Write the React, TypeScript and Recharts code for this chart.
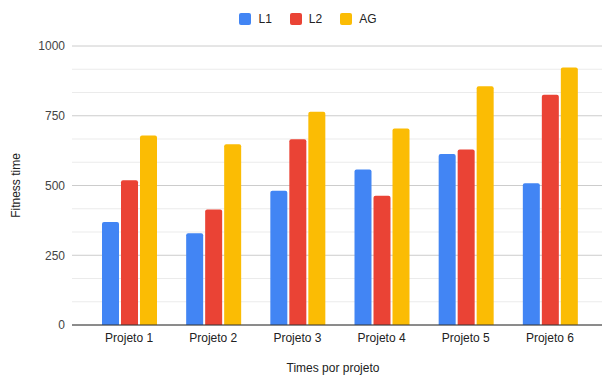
import { BarChart, Bar, XAxis, YAxis, CartesianGrid } from "recharts"

const projetos = ["Projeto 1", "Projeto 2", "Projeto 3", "Projeto 4", "Projeto 5", "Projeto 6"]
const l1 = [369, 329, 481, 557, 613, 508]
const l2 = [519, 414, 666, 463, 629, 825]
const ag = [679, 648, 764, 704, 856, 923]
const yTicks = [0, 250, 500, 750, 1000]

const series = [
  { key: "L1", color: "#4285F4" },
  { key: "L2", color: "#EA4335" },
  { key: "AG", color: "#FBBC04" },
]

const data = projetos.map((name, i) => ({ name, L1: l1[i], L2: l2[i], AG: ag[i] }))

// two light minor lines between each pair of major ticks
const minorLines = yTicks.slice(1).flatMap((t, i) => {
  const prev = yTicks[i]
  const step = (t - prev) / 3
  return [prev + step, prev + 2 * step]
})

const font = "'Liberation Sans', Arial, sans-serif"

export default function App() {
  return (
    <div style={{ position: "absolute", left: 0, top: 0, width: 602, height: 375, fontFamily: font }}>
      <div
        style={{
          position: "absolute",
          top: 12,
          left: 0,
          width: 602,
          display: "flex",
          justifyContent: "center",
          gap: 18,
          fontSize: 12,
          color: "#222",
          paddingLeft: 14,
          boxSizing: "border-box",
        }}
      >
        {series.map((s) => (
          <div key={s.key} style={{ display: "flex", alignItems: "center", gap: 7 }}>
            <span style={{ width: 12, height: 12, borderRadius: 2, background: s.color, display: "inline-block" }} />
            <span>{s.key}</span>
          </div>
        ))}
      </div>
      <BarChart
        width={602}
        height={375}
        data={data}
        margin={{ top: 46, right: 0, left: 0, bottom: 0 }}
        barCategoryGap={15}
        barGap={2}
      >
        <CartesianGrid vertical={false} stroke="#ebebeb" horizontalValues={minorLines} />
        <CartesianGrid vertical={false} stroke="#cccccc" horizontalValues={yTicks} />
        <XAxis
          dataKey="name"
          height={50}
          padding={{ left: 15, right: 10 }}
          tickLine={false}
          axisLine={{ stroke: "#333", strokeWidth: 1 }}
          tick={{ fontSize: 12, fill: "#222", fontFamily: font }}
          label={{
            content: ({ viewBox }: any) => (
              <text
                x={viewBox.x + viewBox.width / 2 - 4}
                y={viewBox.y + 47}
                textAnchor="middle"
                fontSize={12}
                fill="#222"
                fontFamily={font}
              >
                Times por projeto
              </text>
            ),
          }}
        />
        <YAxis
          width={72}
          domain={[0, 1000]}
          ticks={yTicks}
          interval={0}
          axisLine={false}
          tickLine={false}
          tickSize={0}
          tickMargin={7}
          tick={{ fontSize: 12, fill: "#444", fontFamily: font }}
          label={{
            content: ({ viewBox }: any) => {
              const cx = 16
              const cy = viewBox.y + viewBox.height / 2
              return (
                <text
                  x={cx}
                  y={cy}
                  transform={`rotate(-90 ${cx} ${cy})`}
                  textAnchor="middle"
                  dominantBaseline="central"
                  fontSize={12}
                  fill="#222"
                  fontFamily={font}
                >
                  Fitness time
                </text>
              )
            },
          }}
        />
        {series.map((s) => (
          <Bar key={s.key} dataKey={s.key} fill={s.color} radius={[2, 2, 0, 0]} isAnimationActive={false} />
        ))}
      </BarChart>
    </div>
  )
}
